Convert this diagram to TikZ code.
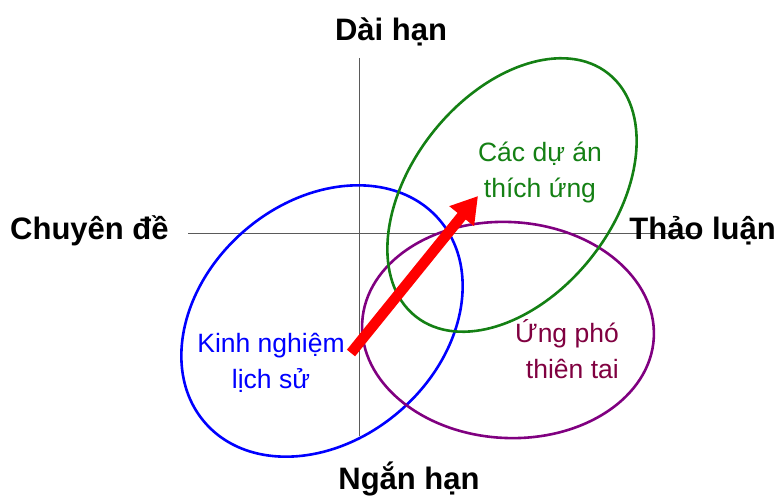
\documentclass[tikz,border=0pt]{standalone}
\usepackage{fontspec}
\setmainfont{Liberation Sans}
\usetikzlibrary{arrows.meta}
\definecolor{ovblue}{RGB}{0,0,255}
\definecolor{ovgreen}{RGB}{20,128,20}
\definecolor{ovpurple}{RGB}{128,0,128}
\definecolor{txtpurple}{RGB}{128,0,64}
\definecolor{axisgray}{RGB}{90,90,90}
\tikzset{
  axislabel/.style={font=\fontsize{31}{36}\selectfont\bfseries, text=black, inner sep=0pt},
  circlabel/.style={font=\fontsize{26.5}{36}\selectfont, inner sep=0pt, align=center},
  axisline/.style={draw=axisgray, line width=0.9pt},
  oval/.style={line width=2.6pt},
  bigarrow/.style={draw=red, line width=10.5pt, -{Triangle[length=26pt,width=30pt]}}
}
\begin{document}
\begin{tikzpicture}[x=1pt,y=-1pt]
\useasboundingbox (0,0) rectangle (776,497);
% axes
\coordinate (vtop) at (359,58);
\coordinate (vbot) at (359,436);
\coordinate (hleft) at (188,233);
\coordinate (hright) at (700,233);
\draw[axisline] (vtop) -- (vbot);
\draw[axisline] (hleft) -- (hright);
% ovals
\draw[oval, draw=ovblue, rotate around={41:(322,321)}] (322,321) ellipse [x radius=155, y radius=119];
\draw[oval, draw=ovpurple, rotate around={-3:(508,330)}] (508,330) ellipse [x radius=146, y radius=108];
\draw[oval, draw=ovgreen, rotate around={51.6:(512,195)}] (512,195) ellipse [x radius=155, y radius=101];
% arrow
\coordinate (atail) at (351,353);
\coordinate (atip) at (478,196);
\draw[bigarrow] (atail) -- (atip);
% axis labels
\node[axislabel] (top) at (391,32) {Dài hạn};
\node[axislabel] (bottom) at (409,479) {Ngắn hạn};
\node[axislabel, anchor=west] (left) at (10,231) {Chuyên đề};
\node[axislabel, anchor=east] (right) at (776,231) {Thảo luận};
% oval labels
\node[circlabel, text=ovgreen] (proj) at (540,172) {Các dự án\\thích ứng};
\node[circlabel, text=ovblue] (hist) at (271,363) {Kinh nghiệm\\lịch sử};
\node[circlabel, text=txtpurple, align=right, anchor=east] (resp) at (619,349) {Ứng phó\\thiên tai};
\end{tikzpicture}
\end{document}
